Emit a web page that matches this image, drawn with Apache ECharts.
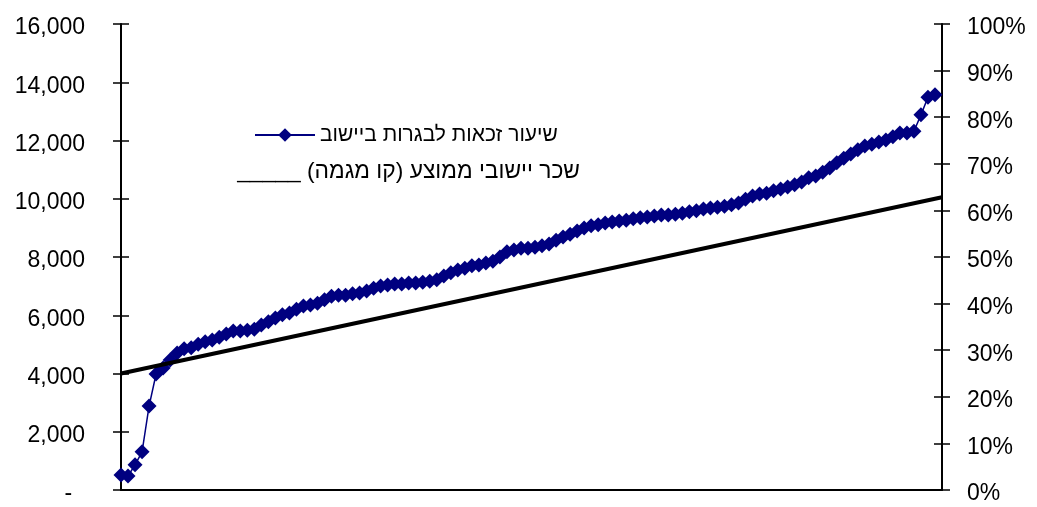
<!DOCTYPE html>
<html>
<head>
<meta charset="utf-8">
<script src="https://cdn.jsdelivr.net/npm/echarts@6/dist/echarts.min.js"></script>
<style>
  html, body { margin: 0; padding: 0; background: #fff; }
  #chart { width: 1037px; height: 507px; }
</style>
</head>
<body>
<div id="chart"></div>
<script>
// Matriculation eligibility rate per settlement (%), sorted ascending (right axis)
const eligibilityPct = [
  3.2, 3.0, 5.4, 8.2, 18.0, 24.9, 26.2, 27.9, 29.4, 30.3,
  30.5, 31.3, 31.8, 32.2, 32.8, 33.5, 34.1, 34.1, 34.3, 34.5,
  35.4, 36.1, 36.9, 37.6, 38.0, 38.8, 39.5, 39.7, 40.1, 40.8,
  41.6, 41.8, 41.8, 42.1, 42.3, 42.7, 43.3, 43.8, 44.0, 44.2,
  44.2, 44.4, 44.4, 44.6, 44.8, 45.1, 45.9, 46.6, 47.2, 47.6,
  48.1, 48.3, 48.7, 49.1, 50.0, 51.1, 51.5, 51.9, 51.9, 52.1,
  52.4, 52.8, 53.6, 54.3, 54.9, 55.6, 56.2, 56.7, 56.9, 57.3,
  57.5, 57.7, 57.9, 58.2, 58.4, 58.6, 58.8, 59.0, 59.0, 59.2,
  59.4, 59.7, 59.9, 60.3, 60.5, 60.7, 60.9, 61.2, 61.6, 62.4,
  63.1, 63.5, 63.7, 64.2, 64.6, 65.0, 65.5, 66.1, 67.0, 67.4,
  68.2, 69.1, 70.2, 71.2, 72.1, 73.0, 73.8, 74.2, 74.7, 75.1,
  75.8, 76.6, 76.6, 77.0, 80.5, 84.3, 84.8
];
// Average settlement wage trend line (left axis), start and end values
const wageTrend = [4000, 10050];
const wageTicks = { min: 0, max: 16000, interval: 2000 };
const pctTicks = { min: 0, max: 100, interval: 10 };
const seriesName = 'שיעור זכאות לבגרות ביישוב';
const trendLabel = 'שכר יישובי ממוצע (קו מגמה) _____';

const xMax = eligibilityPct.length; // axis span in rank units
const rankData = eligibilityPct.map((v, i) => [i, v]);
const trendData = [[0, wageTrend[0]], [xMax, wageTrend[1]]];

const FONT = '"Liberation Sans", Arial, sans-serif';
const chart = echarts.init(document.getElementById('chart'));

function fmtWage(v) {
  const s = v === 0 ? '-  ' : v.toLocaleString('en-US');
  return '{t|' + s + '}';
}
function fmtPct(v) {
  return '{t|' + v + '%}';
}
const labelRich = {
  t: { fontFamily: FONT, fontSize: 23, color: '#000', padding: [8, 0, 0, 0] }
};

const baseY = {
  type: 'value',
  splitLine: { show: false },
  axisLine: { show: true, lineStyle: { color: '#000', width: 2 } },
  axisTick: { show: true, length: 8, lineStyle: { color: '#000', width: 1.5 } }
};

chart.setOption({
  animation: false,
  backgroundColor: '#fff',
  grid: { left: 121, right: 95, top: 24, bottom: 17, containLabel: false },
  legend: {
    show: true,
    left: 249,
    top: 116,
    itemWidth: 60,
    itemHeight: 17,
    data: [seriesName],
    textStyle: { fontFamily: FONT, fontSize: 21, color: '#000', lineHeight: 28 }
  },
  graphic: [{
    type: 'text',
    right: 457,
    top: 160,
    style: {
      text: '\u202B' + trendLabel + '\u202C',
      fontFamily: FONT,
      fontSize: 22.8,
      fill: '#000'
    }
  }],
  xAxis: {
    type: 'value',
    min: 0,
    max: xMax,
    axisLine: { show: true, onZero: false, lineStyle: { color: '#000', width: 2 } },
    axisTick: { show: false },
    axisLabel: { show: false },
    splitLine: { show: false }
  },
  yAxis: [
    Object.assign({}, baseY, {
      position: 'left', offset: 0,
      min: wageTicks.min, max: wageTicks.max, interval: wageTicks.interval,
      axisTick: { show: true, inside: false, length: 8, lineStyle: { color: '#000', width: 1.5 } },
      axisLabel: {
        margin: 36, color: '#000', fontFamily: FONT, fontSize: 23,
        formatter: fmtWage, rich: labelRich
      }
    }),
    Object.assign({}, baseY, {
      position: 'right', offset: 0,
      min: pctTicks.min, max: pctTicks.max, interval: pctTicks.interval,
      axisTick: { show: true, inside: false, length: 8, lineStyle: { color: '#000', width: 1.5 } },
      axisLabel: {
        margin: 25, color: '#000', fontFamily: FONT, fontSize: 23,
        formatter: fmtPct, rich: labelRich
      }
    }),
    Object.assign({}, baseY, {
      position: 'left', offset: 0,
      min: wageTicks.min, max: wageTicks.max, interval: wageTicks.interval,
      axisLine: { show: false },
      axisTick: { show: true, inside: true, length: 8, lineStyle: { color: '#000', width: 1.5 } },
      axisLabel: { show: false }
    }),
    Object.assign({}, baseY, {
      position: 'right', offset: 0,
      min: pctTicks.min, max: pctTicks.max, interval: pctTicks.interval,
      axisLine: { show: false },
      axisTick: { show: true, inside: true, length: 8, lineStyle: { color: '#000', width: 1.5 } },
      axisLabel: { show: false }
    })
  ],
  series: [
    {
      name: seriesName,
      type: 'line',
      yAxisIndex: 1,
      data: rankData,
      symbol: 'diamond',
      symbolSize: 15,
      showSymbol: true,
      lineStyle: { color: '#000080', width: 1.5 },
      itemStyle: { color: '#000080', borderWidth: 0 },
      z: 2
    },
    {
      name: 'trend',
      type: 'line',
      yAxisIndex: 0,
      data: trendData,
      symbol: 'none',
      lineStyle: { color: '#000', width: 4 },
      z: 3
    }
  ]
});
</script>
</body>
</html>
